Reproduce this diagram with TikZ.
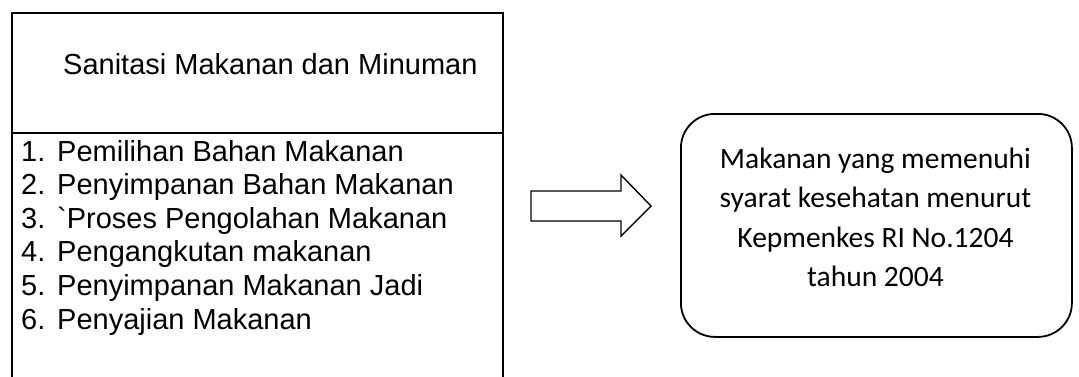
\documentclass[tikz,border=0pt]{standalone}
\usepackage{fontspec}
\newfontfamily\arialf{Liberation Sans}
\newfontfamily\calif{Carlito}
\begin{document}
\begin{tikzpicture}[x=1pt,y=-1pt,
  boxline/.style={draw=black, line width=2pt},
  arialtext/.style={font=\arialf\fontsize{29}{34}\selectfont, inner sep=0pt, anchor=base west},
  calitext/.style={font=\calif\fontsize{29.5}{40}\selectfont, inner sep=0pt, anchor=base}]
\useasboundingbox (0,0) rectangle (1079,376);
\fill[white] (0,0) rectangle (1079,376);
% left box
\node[boxline, anchor=north west, minimum width=491pt, minimum height=390pt, inner sep=0pt] (sanbox) at (11,12) {};
\coordinate (divL) at (11,133);
\coordinate (divR) at (502,133);
\draw[line width=1.8pt] (divL) -- (divR);
\node[arialtext] (title) at (63,74) {Sanitasi Makanan dan Minuman};
\foreach \i/\t in {1/Pemilihan Bahan Makanan,2/Penyimpanan Bahan Makanan,3/`Proses Pengolahan Makanan,4/Pengangkutan makanan,5/Penyimpanan Makanan Jadi,6/Penyajian Makanan}{
  \node[arialtext] (num\i) at (21,{161+(\i-1)*33.6}) {\i.};
  \node[arialtext] (item\i) at (57,{161+(\i-1)*33.6}) {\t};
}
% arrow
\draw[line width=1.4pt, line join=miter] (531,191) -- (621,191) -- (621,175) -- (651,206) -- (621,236) -- (621,221) -- (531,221) -- cycle;
% right box
\node[boxline, line width=1.8pt, rounded corners=34pt, anchor=north west, minimum width=391pt, minimum height=223pt, inner sep=0pt] (result) at (680,113) {};
\node[calitext] (r1) at (875.5,168) {Makanan yang memenuhi};
\node[calitext] (r2) at (875.5,207.5) {syarat kesehatan menurut};
\node[calitext] (r3) at (875.5,247) {Kepmenkes RI No.1204};
\node[calitext] (r4) at (875.5,286.5) {tahun 2004};
\end{tikzpicture}
\end{document}
